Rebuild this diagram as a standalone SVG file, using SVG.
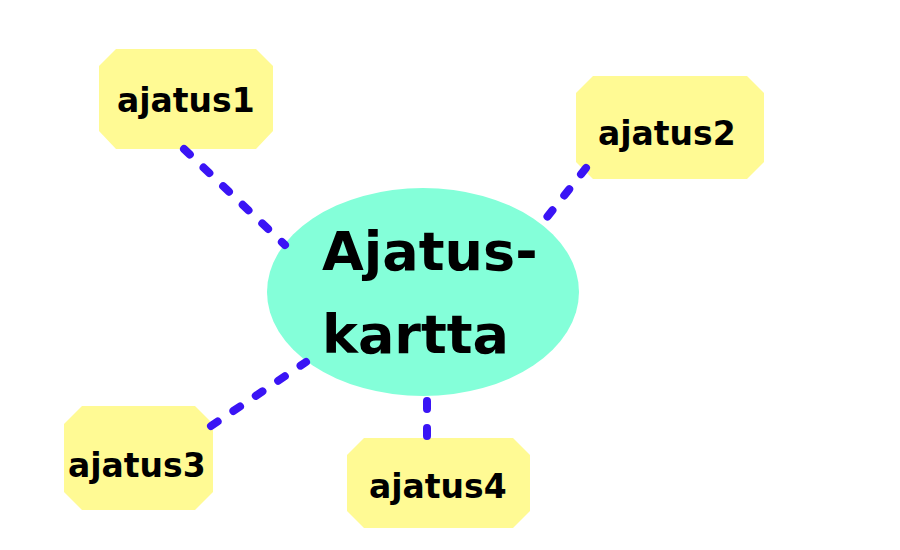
<svg xmlns="http://www.w3.org/2000/svg" width="900" height="550" viewBox="0 0 900 550">
<style>
.box{fill:#FFFA94;}
.lbl{font-family:"DejaVu Sans","Liberation Sans",sans-serif;font-weight:bold;font-size:33px;fill:#000;}
.big{font-family:"DejaVu Sans","Liberation Sans",sans-serif;font-weight:bold;font-size:54px;fill:#000;}
.con{stroke:#3A14F5;stroke-width:8;stroke-linecap:round;stroke-dasharray:8 19;fill:none;}
</style>
<rect width="900" height="550" fill="#fff"/>
<g id="center">
<ellipse cx="423" cy="292" rx="156" ry="104" fill="#84FFD9"/>
<text class="big" x="322" y="270">Ajatus-</text>
<text class="big" x="322" y="353">kartta</text>
</g>
<g id="ajatus1">
<polygon class="box" points="116,49 256,49 273,66 273,131 256,149 116,149 99,131 99,66"/>
<text class="lbl" x="117" y="112">ajatus1</text>
</g>
<g id="ajatus2">
<polygon class="box" points="593,76 747,76 764,93 764,162 747,179 593,179 576,162 576,93"/>
<text class="lbl" x="598" y="145">ajatus2</text>
</g>
<g id="ajatus3">
<polygon class="box" points="82,406 195,406 213,424 213,492 195,510 82,510 64,492 64,424"/>
<text class="lbl" x="68" y="477">ajatus3</text>
</g>
<g id="ajatus4">
<polygon class="box" points="364,438 513,438 530,455 530,511 513,528 364,528 347,511 347,455"/>
<text class="lbl" x="369" y="498">ajatus4</text>
</g>
<g id="connectors">
<line class="con" x1="184" y1="149" x2="285" y2="245"/>
<line class="con" x1="586" y1="168" x2="544" y2="221"/>
<line class="con" x1="211" y1="426" x2="306" y2="362"/>
<line class="con" x1="427" y1="401" x2="427" y2="440"/>
</g>
</svg>
